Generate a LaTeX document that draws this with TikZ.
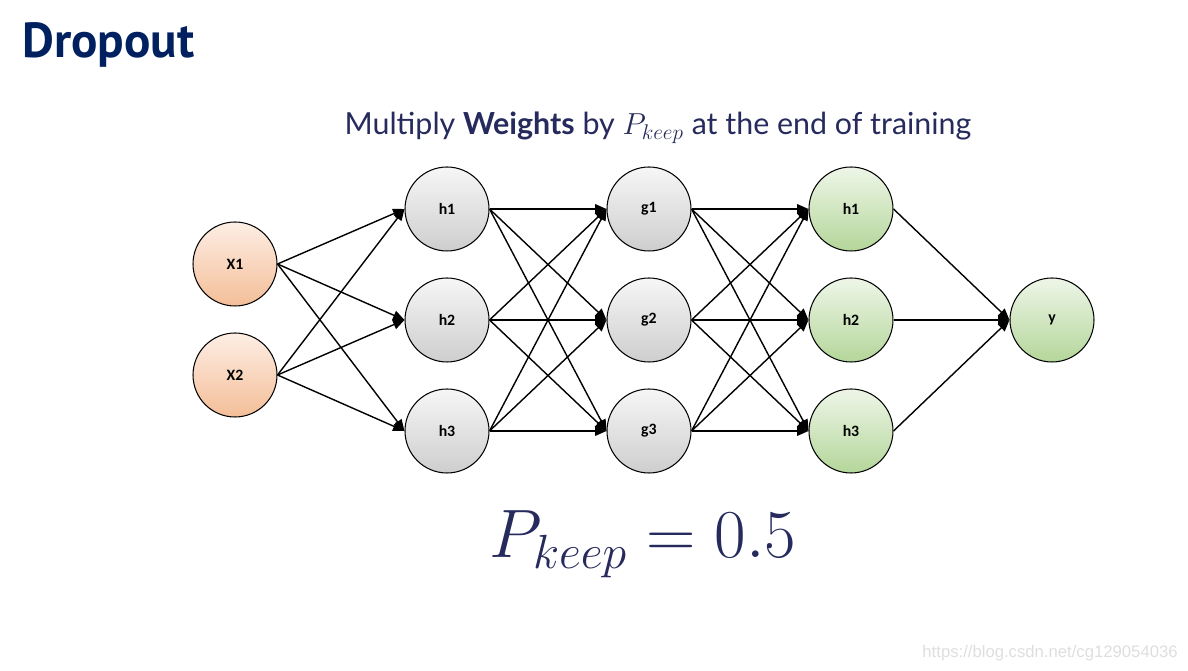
\documentclass[tikz,border=0pt]{standalone}
\usepackage{fix-cm}
\usepackage{fontspec}
\setmainfont{Carlito}
\newfontfamily\headfont{PT Sans}
\newfontfamily\leadfont{Lato}
\newfontfamily\markfont{Liberation Sans}
\usetikzlibrary{arrows.meta}
\definecolor{navy}{HTML}{002060}
\definecolor{ink}{HTML}{262A5C}
\definecolor{peachtop}{HTML}{FDEEE4}
\definecolor{peachbot}{HTML}{F4BE98}
\definecolor{greytop}{HTML}{F6F6F6}
\definecolor{greybot}{HTML}{CECECE}
\definecolor{leaftop}{HTML}{EEF6E8}
\definecolor{leafbot}{HTML}{B4D69A}

\tikzset{
  neuron/.style={circle, draw, line width=0.6pt, minimum size=1.68cm, inner sep=0pt,
    font=\fontsize{9}{10}\selectfont\bfseries},
  inlayer/.style={neuron, top color=peachtop, bottom color=peachbot},
  hidlayer/.style={neuron, top color=greytop, bottom color=greybot},
  outlayer/.style={neuron, top color=leaftop, bottom color=leafbot},
  link/.style={line width=0.8pt, -{Triangle[length=6.5pt,width=5.5pt]}}
}

\begin{document}
\begin{tikzpicture}[x=0.02cm, y=-0.02cm]
            \useasboundingbox (0,0) rectangle (1188,671);
            \node[anchor=base west, inner sep=0pt, text=navy, font=\headfont\bfseries\fontsize{28}{32}\selectfont] (title) at (22,58) {Dropout};
            \node[anchor=base, inner sep=0pt, text=ink, font=\leadfont\fontsize{17.3}{20}\selectfont] (rule) at (658,135) {Multiply \textbf{Weights} by $P_{keep}$ at the end of training};
            % input, hidden and output neurons
            \node[inlayer] (x1) at (235,264) {X1};
            \node[inlayer] (x2) at (235,375) {X2};
            \foreach \i/\y in {1/209, 2/320, 3/431} {
                \node[hidlayer] (h\i) at (447,\y) {h\i};
                \node[hidlayer] (g\i) at (649,\y) {g\i};
                \node[outlayer] (o\i) at (851,\y) {h\i};
            }
            \node[outlayer] (y) at (1052,320) {y};
            % connections
            \foreach \b in {h1,h2,h3} {
                \draw[link] (x1.east) -- (\b.west);
                \draw[link] (x2.east) -- (\b.west);
            }
            \foreach \a in {1,2,3} {
                \foreach \b in {1,2,3} {
                    \draw[link] (h\a.east) -- (g\b.west);
                    \draw[link] (g\a.east) -- (o\b.west);
                }
                \draw[link] (o\a.east) -- (y.west);
            }
            \node[anchor=base, inner sep=0pt, text=ink, font=\fontsize{39}{44}\selectfont] (pkeep) at (643,558) {$P_{keep} = 0.5$};
            \node[anchor=base east, inner sep=0pt, text=black!13, font=\markfont\fontsize{9.5}{11}\selectfont] (mark) at (1178,658) {https://blog.csdn.net/cg129054036};
        \end{tikzpicture}
\end{document}
